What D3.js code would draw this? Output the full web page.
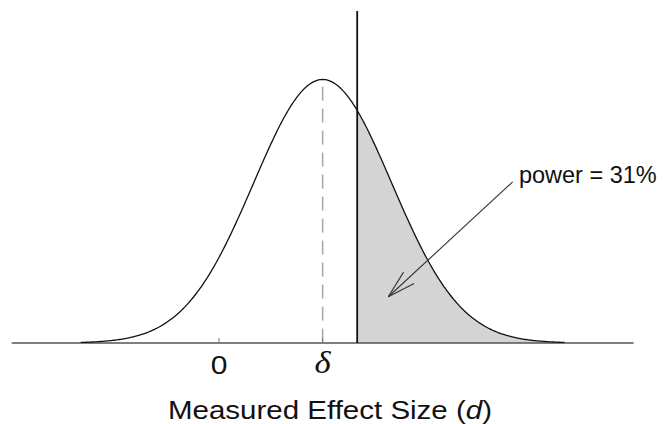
<!DOCTYPE html>
<html>
<head>
<meta charset="utf-8">
<script src="https://cdn.jsdelivr.net/npm/d3@7"></script>
<style>
  html, body { margin: 0; padding: 0; background: #fff; }
  svg { display: block; }
  text { font-family: "Liberation Sans", Arial, Helvetica, sans-serif; }
</style>
</head>
<body>
<svg id="chart" width="663" height="424"></svg>
<script>
// ---- data ----
const delta = 1.5;            // true effect size (in SE units)
const se = 1;                 // standard error of measured d
const criticalValue = 2.0;    // significance threshold
const powerLabel = "power = 31%";
const tickValues = [0, delta];
const tickLabels = ["0", "\u03B4"];
const curveExtent = [-2, 5];  // delta ± 3.5 SE
const xDomain = [-3, 6];
const arrowFrom = [4.25, 0.244];  // annotation in data units
const arrowTo = [2.45, 0.070];
const labelPos = [4.34, 0.2425];
const xLabel = ["Measured Effect Size (", "d", ")"];

// ---- layout ----
const W = 663, H = 424;
const svg = d3.select("#chart");
const x = d3.scaleLinear().domain(xDomain).range([11.7, 633.6]);
const pdf = v => Math.exp(-0.5 * ((v - delta) / se) ** 2) / (se * Math.sqrt(2 * Math.PI));
const peak = pdf(delta);
const y = d3.scaleLinear().domain([0, peak]).range([343, 79.5]);

const pts = d3.range(curveExtent[0], curveExtent[1] + 1e-9, 0.02).map(v => [v, pdf(v)]);
const shadePts = pts.filter(p => p[0] >= criticalValue - 1e-9);
shadePts.unshift([criticalValue, pdf(criticalValue)]);

// shaded power region
const area = d3.area().x(d => x(d[0])).y0(y(0)).y1(d => y(d[1]));
svg.append("path").datum(shadePts).attr("d", area).attr("fill", "#d4d4d4");

// dashed line at delta
svg.append("line")
  .attr("x1", x(delta)).attr("x2", x(delta))
  .attr("y1", y(peak) + 7).attr("y2", y(0))
  .attr("stroke", "#aaaaaa").attr("stroke-width", 1.6)
  .attr("stroke-dasharray", "14,8");

// axis
const axis = svg.append("g").attr("transform", `translate(0,${y(0)})`);
axis.append("line").attr("x1", x(xDomain[0])).attr("x2", x(xDomain[1]))
  .attr("y1", 0).attr("y2", 0).attr("stroke", "#555").attr("stroke-width", 1.6);
axis.selectAll("line.tick").data(tickValues).join("line").attr("class", "tick")
  .attr("x1", d => x(d)).attr("x2", d => x(d)).attr("y1", 0).attr("y2", -5)
  .attr("stroke", "#777").attr("stroke-width", 1);

// curve
const line = d3.line().x(d => x(d[0])).y(d => y(d[1]));
svg.append("path").datum(pts).attr("d", line)
  .attr("fill", "none").attr("stroke", "#111").attr("stroke-width", 1.3);

// critical value line
svg.append("line")
  .attr("x1", x(criticalValue)).attr("x2", x(criticalValue))
  .attr("y1", 11).attr("y2", y(0))
  .attr("stroke", "#111").attr("stroke-width", 1.8);

// tick labels (source image is slightly stretched horizontally)
svg.append("text")
  .attr("transform", `translate(${x(tickValues[0])},374) scale(1.2,1)`)
  .attr("text-anchor", "middle").attr("font-size", 25).attr("fill", "#111")
  .text(tickLabels[0]);
svg.append("text")
  .attr("transform", `translate(${x(tickValues[1])},373) scale(1.12,1)`)
  .attr("text-anchor", "middle").attr("font-size", 31).attr("font-style", "italic")
  .attr("fill", "#111")
  .style("font-family", "'Liberation Serif', 'Times New Roman', serif")
  .text(tickLabels[1]);

// axis title
const t = svg.append("text").attr("x", 330).attr("y", 419)
  .attr("text-anchor", "middle").attr("font-size", 25.5).attr("fill", "#111")
  .attr("textLength", 324).attr("lengthAdjust", "spacingAndGlyphs");
t.append("tspan").text(xLabel[0]);
t.append("tspan").attr("font-style", "italic").text(xLabel[1]);
t.append("tspan").text(xLabel[2]);

// arrow annotation
const ax1 = x(arrowFrom[0]), ay1 = y(arrowFrom[1]);
const ax2 = x(arrowTo[0]), ay2 = y(arrowTo[1]);
svg.append("line").attr("x1", ax1).attr("y1", ay1).attr("x2", ax2).attr("y2", ay2)
  .attr("stroke", "#333").attr("stroke-width", 1.1);
const ang = Math.atan2(ay1 - ay2, ax1 - ax2);
const armLen = 29, spread = 15.5 * Math.PI / 180;
[ang - spread, ang + spread].forEach(a => {
  svg.append("line").attr("x1", ax2).attr("y1", ay2)
    .attr("x2", ax2 + armLen * Math.cos(a)).attr("y2", ay2 + armLen * Math.sin(a))
    .attr("stroke", "#333").attr("stroke-width", 1.1);
});

svg.append("text").attr("x", x(labelPos[0])).attr("y", y(labelPos[1]))
  .attr("font-size", 23.5).attr("fill", "#111").text(powerLabel);
</script>
</body>
</html>
